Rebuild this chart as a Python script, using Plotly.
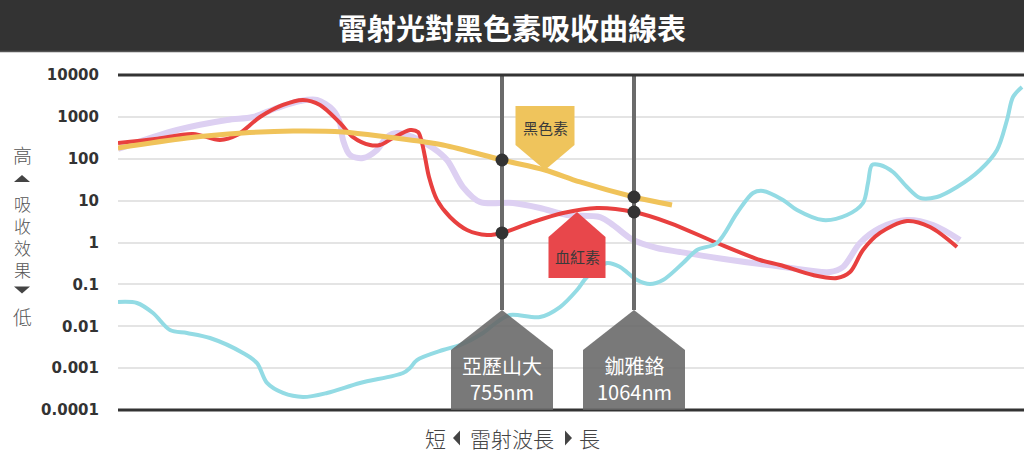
import math
import plotly.graph_objects as go

# ---------------- data ----------------
# x = relative position along the (unlabelled) wavelength axis, 0..906
hemoglobin_x = [0, 37, 75, 102, 119, 142, 165, 185, 202, 222, 235, 252, 262, 275, 292, 300, 304, 307, 311, 319,
                332, 349, 369, 384, 412, 445, 479, 516, 552, 599, 642, 662, 695, 719, 732, 745, 762, 789, 812, 839]
hemoglobin_y = [238, 296, 390, 281, 369, 993, 1923, 2529, 1923, 714, 330, 213, 213, 313, 486, 436, 238, 110, 36.6, 10.4,
                4.06, 1.99, 1.51, 1.69, 2.92, 5.06, 6.67, 5.35, 2.92, 0.973, 0.382, 0.290, 0.167, 0.142, 0.197, 0.662,
                1.69, 3.26, 2.34, 0.780]

purple_x = [0, 59, 109, 135, 159, 182, 199, 215, 222, 225, 232, 245, 259, 269, 279, 295, 315, 329, 345, 362, 395,
            422, 449, 482, 495, 515, 539, 562, 599, 665, 712, 725, 742, 762, 789, 815, 842]
purple_y = [171, 486, 841, 993, 1629, 2393, 2529, 1459, 714, 281, 123, 104, 162, 330, 412, 330, 181, 93.3, 21.1, 9.27,
            8.77, 6.67, 4.54, 4.06, 2.62, 1.15, 0.739, 0.593, 0.427, 0.260, 0.197, 0.260, 0.973, 2.22, 3.44, 2.62, 1.15]

melanin_x = [0, 69, 125, 175, 225, 269, 325, 384, 427, 462, 516, 554]
melanin_y = [181, 313, 412, 460, 436, 330, 213, 93.3, 53.8, 27.9, 12.2, 7.85]

water_x = [0, 19, 35, 52, 69, 92, 125, 139, 149, 165, 185, 209, 242, 285, 292, 299, 325, 342, 365, 379, 392, 422,
           442, 459, 469, 489, 502, 519, 532, 545, 565, 579, 599, 619, 635, 645, 665, 679, 705, 729, 745, 750, 754,
           762, 775, 789, 802, 819, 839, 862, 879, 889, 895, 904]
water_y = [0.0379, 0.0359, 0.0207, 0.00813, 0.0069, 0.00524, 0.0023, 0.00132, 0.000442, 0.000255, 0.000204,
           0.000255, 0.000442, 0.000765, 0.00101, 0.00156, 0.00271, 0.00356, 0.0069, 0.0126, 0.0186, 0.0166, 0.0288,
           0.0734, 0.150, 0.324, 0.260, 0.127, 0.102, 0.127, 0.324, 0.662, 0.973, 5.06, 15.2, 17.0, 10.4, 5.97, 3.44,
           4.54, 8.77, 26.4, 70.9, 70.9, 48.3, 21.1, 11.6, 12.2, 21.1, 53.8, 162, 841, 2985, 5160]

laser_x = [384, 516]
laser_names = ["亞歷山大", "鉫雅鉻"]
laser_nm = ["755nm", "1064nm"]
melanin_at_laser = [93.3, 12.2]
hemoglobin_at_laser = [1.69, 5.35]

melanin_tag = (427, 53.8, "黑色素")
hemoglobin_tag = (459, 5.35, "血紅素")

tick_vals = [1e-4, 1e-3, 1e-2, 1e-1, 1, 10, 100, 1000, 10000]
tick_text = ["0.0001", "0.001", "0.01", "0.1", "1", "10", "100", "1000", "10000"]

title_text = "雷射光對黑色素吸收曲線表"
y_title_high = "高"
y_title_mid = ["吸", "收", "效", "果"]
y_title_low = "低"
x_title_parts = ["短", "雷射波長", "長"]

# ---------------- layout geometry ----------------
W, H = 1024, 452
ML, MR, MT, MB = 118, 0, 75, 42
PW, PH = W - ML - MR, H - MT - MB
XMAX = 906
CJK = "Noto Sans CJK TC"


def px(p):      # pixel x -> paper
    return (p - ML) / PW


def py(p):      # pixel y -> paper
    return (H - MB - p) / PH


def vy(v):      # data value -> paper y
    return (math.log10(v) + 4) / 8


fig = go.Figure()

line_style = dict(shape="spline", smoothing=0.9)
fig.add_trace(go.Scatter(x=purple_x, y=purple_y, mode="lines",
                         line=dict(color="#ddd0f2", width=6, **line_style)))
fig.add_trace(go.Scatter(x=hemoglobin_x, y=hemoglobin_y, mode="lines",
                         line=dict(color="#e8403f", width=4, **line_style)))
fig.add_trace(go.Scatter(x=water_x, y=water_y, mode="lines",
                         line=dict(color="#93dbe4", width=4, **line_style)))
fig.add_trace(go.Scatter(x=melanin_x, y=melanin_y, mode="lines",
                         line=dict(color="#f0c35a", width=5, **line_style)))

apex_paper = py(310)
shoulder_paper = py(350)
for lx in laser_x:
    fig.add_trace(go.Scatter(x=[lx, lx], y=[1e4, 10 ** (apex_paper * 8 - 4)], mode="lines",
                             line=dict(color="#6b6b6b", width=4)))

fig.add_trace(go.Scatter(x=laser_x + laser_x, y=melanin_at_laser + hemoglobin_at_laser, mode="markers",
                         marker=dict(size=13, color="#333333")))

shapes = []
# header bar
shapes.append(dict(type="rect", xref="paper", yref="paper", x0=-0.5, x1=1.5, y0=py(52), y1=1.5,
                   fillcolor="#333333", line=dict(width=0), layer="above"))
shapes.append(dict(type="line", xref="paper", yref="paper", x0=-0.5, x1=1.5, y0=py(51.5), y1=py(51.5),
                   line=dict(color="#555555", width=1.5), layer="above"))
# top / bottom axis lines
for yy in (0, 1):
    shapes.append(dict(type="line", xref="paper", yref="paper", x0=0, x1=1, y0=yy, y1=yy,
                       line=dict(color="#333333", width=3), layer="above"))
# laser pentagons
half = 51
for lx in laser_x:
    path = (f"M {lx-half},0 L {lx-half},{shoulder_paper} L {lx},{apex_paper} "
            f"L {lx+half},{shoulder_paper} L {lx+half},0 Z")
    shapes.append(dict(type="path", xref="x", yref="paper", path=path, fillcolor="#666666",
                       opacity=0.88, line=dict(width=0), layer="above"))

# melanin tag (pointing down)
tx, tv, _ = melanin_tag
a = vy(tv)
path = (f"M {tx},{a} L {tx-29.5},{a + 25/PH} L {tx-29.5},{a + 64/PH} L {tx+29.5},{a + 64/PH} "
        f"L {tx+29.5},{a + 25/PH} Z")
shapes.append(dict(type="path", xref="x", yref="paper", path=path, fillcolor="#efc45c",
                   line=dict(width=0), layer="above"))
# hemoglobin tag (pointing up)
tx2, tv2, _ = hemoglobin_tag
b = vy(tv2)
path = (f"M {tx2},{b} L {tx2-28.5},{b - 25/PH} L {tx2-28.5},{b - 66/PH} L {tx2+28.5},{b - 66/PH} "
        f"L {tx2+28.5},{b - 25/PH} Z")
shapes.append(dict(type="path", xref="x", yref="paper", path=path, fillcolor="#e8474b",
                   line=dict(width=0), layer="above"))


def tri(cx, cy, w, h, direction):
    if direction == "up":
        pts = [(cx - w/2, cy + h/2), (cx + w/2, cy + h/2), (cx, cy - h/2)]
    elif direction == "down":
        pts = [(cx - w/2, cy - h/2), (cx + w/2, cy - h/2), (cx, cy + h/2)]
    elif direction == "left":
        pts = [(cx + w/2, cy - h/2), (cx + w/2, cy + h/2), (cx - w/2, cy)]
    else:
        pts = [(cx - w/2, cy - h/2), (cx - w/2, cy + h/2), (cx + w/2, cy)]
    p = "M " + " L ".join(f"{px(x)},{py(y)}" for x, y in pts) + " Z"
    return dict(type="path", xref="paper", yref="paper", path=p, fillcolor="#444444",
                line=dict(width=0), layer="above")


shapes.append(tri(22, 178.5, 16, 7, "up"))
shapes.append(tri(22, 290, 16, 7, "down"))
shapes.append(tri(456.5, 438, 7, 15, "left"))
shapes.append(tri(568.5, 438, 7, 15, "right"))

annotations = []
annotations.append(dict(text=title_text, x=px(512), y=py(27), xref="paper", yref="paper", showarrow=False,
                        font=dict(family=CJK, size=29, color="#ffffff", weight="bold"),
                        xanchor="center", yanchor="middle"))
for name, nm, lx in zip(laser_names, laser_nm, laser_x):
    annotations.append(dict(text=f"{name}<br>{nm}", x=lx, y=py(378), xref="x", yref="paper", showarrow=False,
                            font=dict(family=CJK, size=20, color="#ffffff"),
                            xanchor="center", yanchor="middle"))
annotations.append(dict(text=melanin_tag[2], x=melanin_tag[0], y=vy(melanin_tag[1]) + 43/PH, xref="x",
                        yref="paper", showarrow=False, font=dict(family=CJK, size=15, color="#3a3a3a"),
                        xanchor="center", yanchor="middle"))
annotations.append(dict(text=hemoglobin_tag[2], x=hemoglobin_tag[0], y=vy(hemoglobin_tag[1]) - 44/PH, xref="x",
                        yref="paper", showarrow=False, font=dict(family=CJK, size=15, color="#3a3a3a"),
                        xanchor="center", yanchor="middle"))
# vertical y-axis title
ytitle_font = dict(family=CJK, size=19, color="#555555", weight=300)
annotations.append(dict(text=y_title_high, x=px(22), y=py(154), xref="paper", yref="paper", showarrow=False,
                        font=ytitle_font, xanchor="center", yanchor="middle"))
annotations.append(dict(text="<br>".join(y_title_mid), x=px(22), y=py(236), xref="paper", yref="paper",
                        showarrow=False, font=dict(family=CJK, size=17, color="#555555", weight=300),
                        xanchor="center", yanchor="middle"))
annotations.append(dict(text=y_title_low, x=px(22), y=py(316), xref="paper", yref="paper", showarrow=False,
                        font=ytitle_font, xanchor="center", yanchor="middle"))
for part, xc in zip(x_title_parts, [435, 512, 589]):
    annotations.append(dict(text=part, x=px(xc), y=py(438), xref="paper", yref="paper", showarrow=False,
                            font=dict(family=CJK, size=21, color="#444444", weight=300),
                            xanchor="center", yanchor="middle"))

fig.update_layout(
    width=W, height=H, margin=dict(l=ML, r=MR, t=MT, b=MB),
    paper_bgcolor="#ffffff", plot_bgcolor="#ffffff", showlegend=False,
    shapes=shapes, annotations=annotations, hovermode=False,
    xaxis=dict(range=[0, XMAX], visible=False, fixedrange=True),
    yaxis=dict(type="log", range=[-4, 4], tickvals=tick_vals, ticktext=tick_text,
               showgrid=True, gridcolor="#e4e4e4", gridwidth=2, zeroline=False, showline=False,
               ticks="", ticklabelstandoff=18,
               tickfont=dict(family="DejaVu Sans", size=15, color="#333333", weight="bold"),
               fixedrange=True),
)

fig.write_html("out.html")
